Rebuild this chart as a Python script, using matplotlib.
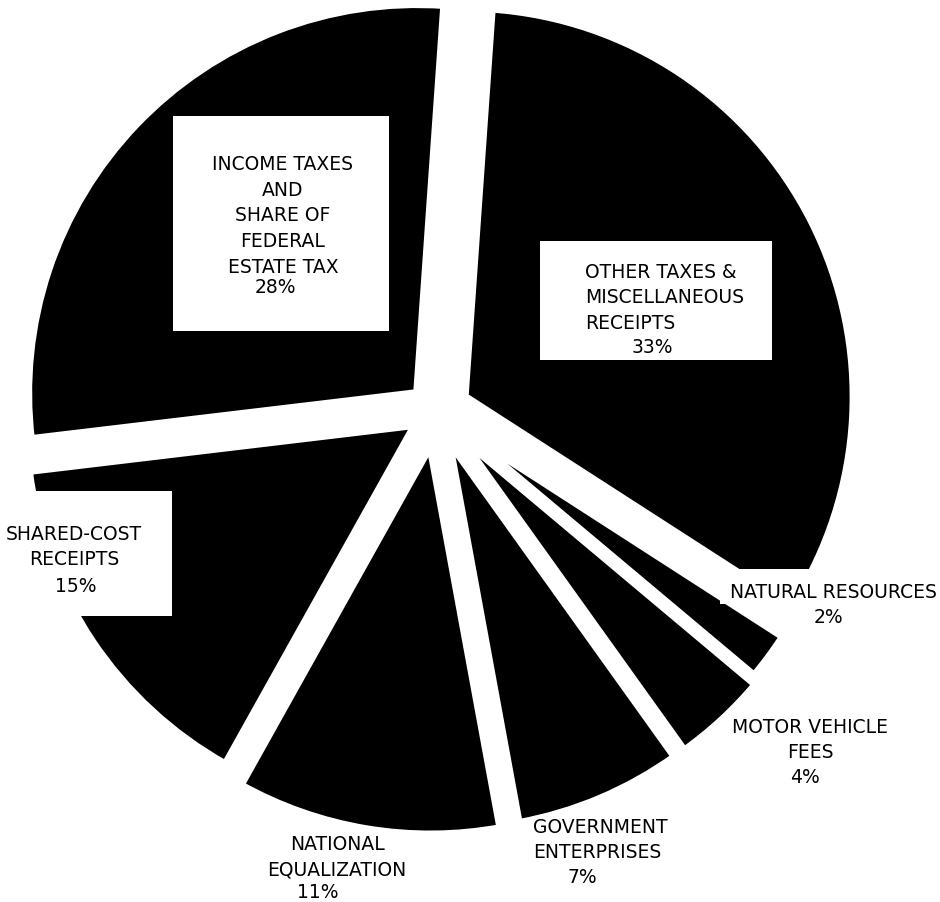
import matplotlib
matplotlib.use("Agg")
import matplotlib.pyplot as plt
from matplotlib.patches import Rectangle
from matplotlib.transforms import Affine2D


# slices listed clockwise, starting just right of twelve o'clock
CATEGORIES = [
    "OTHER TAXES &\nMISCELLANEOUS\nRECEIPTS",
    "NATURAL RESOURCES",
    "MOTOR VEHICLE\nFEES",
    "GOVERNMENT\nENTERPRISES",
    "NATIONAL\nEQUALIZATION",
    "SHARED-COST\nRECEIPTS",
    "INCOME TAXES\nAND\nSHARE OF\nFEDERAL\nESTATE TAX",
]
SHARES = [33, 2, 4, 7, 11, 15, 28]

W, H = 940, 903
R_PX = 389.0              # pie radius in pixels
CX, CY = 436.0, 412.0     # pie centre in pixels (y down)
EXPLODE_PX = [32, 25, 32, 32, 35, 25, 26]
GAP_PX = 8

# label layout in pixels: name anchor (x, y, ha), percent anchor, white box
NAME_POS = [
    (585, 298, "left"),
    (833, 593, "center"),
    (810, 740, "center"),
    (533, 840, "left"),
    (337, 857, "center"),
    (74, 547, "center"),
    (283, 216, "center"),
]
PCT_POS = [(652, 348), (828, 618), (805, 778), (582, 878), (318, 893), (76, 587), (275, 288)]
BOXES = {
    0: (540, 242, 772, 361),
    1: (720, 570, 940, 605),
    5: (0, 492, 172, 617),
    6: (173, 117, 389, 332),
}


def main():
    fig = plt.figure(figsize=(W / 100, H / 100), dpi=100)
    fig.patch.set_facecolor("white")
    ax = fig.add_axes([0, 0, 1, 1])

    ax.pie(
        SHARES,
        explode=[d / R_PX for d in EXPLODE_PX],
        startangle=86,
        counterclock=False,
        colors=["black"] * len(SHARES),
        wedgeprops=dict(edgecolor="white", linewidth=GAP_PX * 72 / 100),
    )
    ax.set_xlim(-CX / R_PX, (W - CX) / R_PX)
    ax.set_ylim(-(H - CY) / R_PX, CY / R_PX)
    ax.set_aspect("equal")
    ax.axis("off")

    px = Affine2D().scale(1 / W, -1 / H).translate(0, 1) + fig.transFigure

    for i, (x0, y0, x1, y1) in BOXES.items():
        ax.add_patch(Rectangle((x0, y0), x1 - x0, y1 - y0, transform=px,
                               facecolor="white", edgecolor="none", zorder=5))

    font = dict(family="DejaVu Sans", fontsize=13.5, color="black", zorder=6)
    for name, share, (nx, ny, ha), (qx, qy) in zip(CATEGORIES, SHARES, NAME_POS, PCT_POS):
        ax.text(nx, ny, name, transform=px, ha=ha, va="center",
                multialignment=ha, linespacing=1.45, **font)
        ax.text(qx, qy, f"{share}%", transform=px, ha="center", va="center", **font)

    fig.savefig("out.png", dpi=100, facecolor="white")


if __name__ == "__main__":
    main()
